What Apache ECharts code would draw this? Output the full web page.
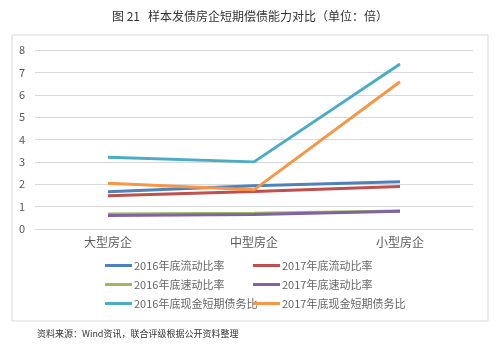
<!DOCTYPE html>
<html>
<head>
<meta charset="utf-8">
<script src="https://cdn.jsdelivr.net/npm/echarts@6/dist/echarts.min.js"></script>
<style>
  html, body { margin: 0; padding: 0; background: #fff; }
  #chart { width: 500px; height: 352px; }
</style>
</head>
<body>
<div id="chart"></div>
<script>
const categories = ['大型房企', '中型房企', '小型房企']
const seriesNames = [
  '2016年底流动比率', '2017年底流动比率',
  '2016年底速动比率', '2017年底速动比率',
  '2016年底现金短期债务比', '2017年底现金短期债务比'
]
const current2016 = [1.67, 1.93, 2.11]
const current2017 = [1.49, 1.68, 1.90]
const quick2016 = [0.67, 0.70, 0.80]
const quick2017 = [0.60, 0.65, 0.79]
const cash2016 = [3.21, 3.00, 7.37]
const cash2017 = [2.04, 1.75, 6.58]
const yTicks = [0, 1, 2, 3, 4, 5, 6, 7, 8]

const colors = ['#4F81BD', '#C0504D', '#9BBB59', '#8064A2', '#4BACC6', '#F79646']
const values = [current2016, current2017, quick2016, quick2017, cash2016, cash2017]
const cjk = '"Noto Sans CJK SC", sans-serif'

const chart = echarts.init(document.getElementById('chart'))

const legendBase = {
  orient: 'vertical',
  top: 260,
  padding: 0,
  itemWidth: 27,
  itemHeight: 3,
  itemGap: 8,
  icon: 'rect',
  selectedMode: false,
  textStyle: { color: '#666', fontSize: 11, fontFamily: cjk, padding: [0, 0, 0, -3] }
}

const option = {
  animation: false,
  color: colors,
  title: [
    {
      text: '图 21   样本发债房企短期偿债能力对比（单位：倍）',
      left: 'center',
      top: 5,
      textStyle: { fontSize: 12, fontWeight: 'normal', color: '#333', fontFamily: cjk }
    },
    {
      text: '资料来源：Wind资讯，联合评级根据公开资料整理',
      left: 32,
      top: 324,
      textStyle: { fontSize: 9, fontWeight: 'normal', color: '#333', fontFamily: cjk }
    }
  ],
  graphic: [{
    type: 'rect',
    shape: { x: 12, y: 35, width: 476, height: 286 },
    style: { fill: 'none', stroke: '#d9d9d9', lineWidth: 1 },
    silent: true
  }],
  legend: [
    Object.assign({}, legendBase, { left: 105, data: [seriesNames[0], seriesNames[2], seriesNames[4]] }),
    Object.assign({}, legendBase, { left: 253, data: [seriesNames[1], seriesNames[3], seriesNames[5]] })
  ],
  grid: { left: 35, right: 27, top: 50, bottom: 123 },
  xAxis: {
    type: 'category',
    data: categories,
    boundaryGap: true,
    axisLine: { lineStyle: { color: '#d9d9d9' } },
    axisTick: { show: false },
    axisLabel: { color: '#595959', fontSize: 12, fontFamily: cjk, margin: 7 }
  },
  yAxis: {
    type: 'value',
    min: yTicks[0],
    max: yTicks[yTicks.length - 1],
    interval: 1,
    axisLine: { show: false },
    axisTick: { show: false },
    splitLine: { lineStyle: { color: '#d9d9d9' } },
    axisLabel: { color: '#595959', fontSize: 11, fontFamily: cjk, margin: 10 }
  },
  series: seriesNames.map((name, i) => ({
    name: name,
    type: 'line',
    data: values[i],
    symbol: 'none',
    lineStyle: { width: 3, color: colors[i] },
    z: i === 4 || i === 5 ? 3 : 2
  }))
}

chart.setOption(option)
</script>
</body>
</html>
